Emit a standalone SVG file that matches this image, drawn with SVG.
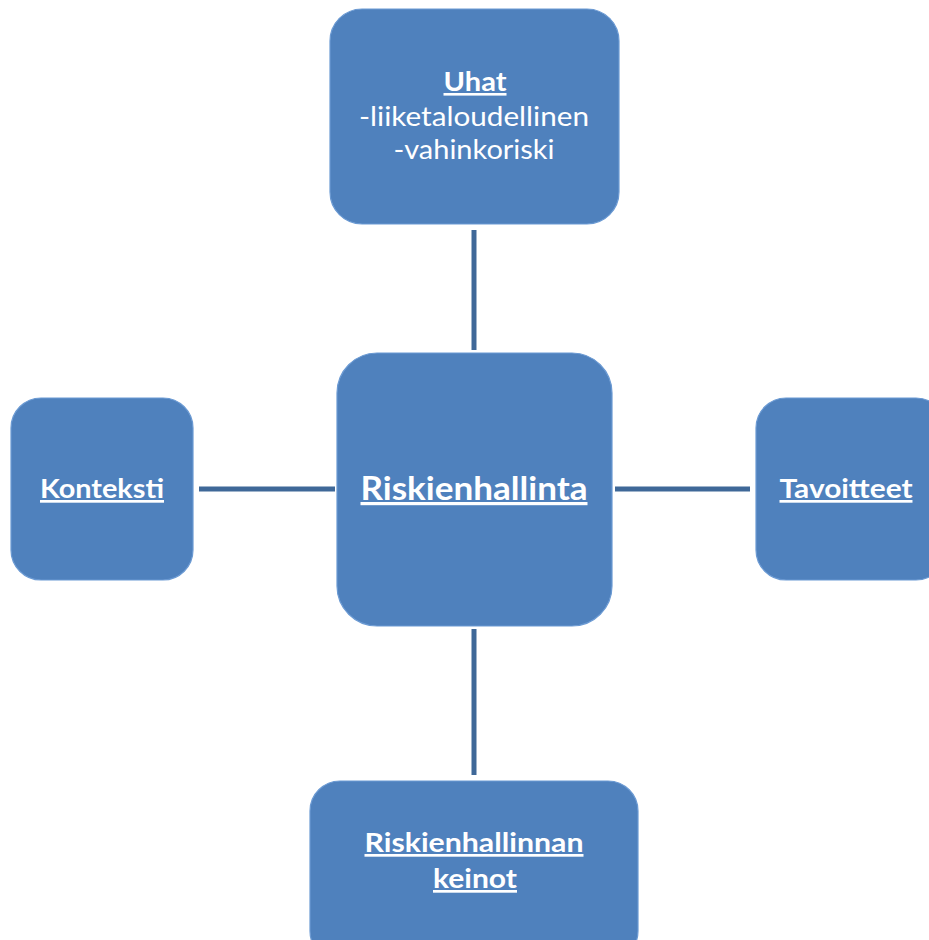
<svg xmlns="http://www.w3.org/2000/svg" width="929" height="940" viewBox="0 0 929 940">
<style>
.box{fill:#4F81BD;stroke:#6B9AD3;stroke-width:1.2}
.conn{stroke:#3F6898;stroke-width:5;fill:none}
text{font-family:Lato,"Liberation Sans",sans-serif;fill:#FFFFFF;text-anchor:middle}
.b{font-weight:bold;text-decoration:underline}
</style>
<rect width="929" height="940" fill="#FFFFFF"/>
<g id="connectors">
<line class="conn" x1="474" y1="230" x2="474" y2="350"/>
<line class="conn" x1="474" y1="629" x2="474" y2="775"/>
<line class="conn" x1="199" y1="489" x2="335" y2="489"/>
<line class="conn" x1="615" y1="489" x2="750" y2="489"/>
</g>
<g id="uhat">
<rect class="box" x="330" y="9" width="289" height="215" rx="32"/>
<text class="b" x="475" y="91" font-size="26" textLength="63" lengthAdjust="spacingAndGlyphs">Uhat</text>
<text x="474" y="126" font-size="26" textLength="230" lengthAdjust="spacingAndGlyphs">-liiketaloudellinen</text>
<text x="474" y="159" font-size="26" textLength="161" lengthAdjust="spacingAndGlyphs">-vahinkoriski</text>
</g>
<g id="riskienhallinta">
<rect class="box" x="337" y="353" width="275" height="273" rx="40"/>
<text class="b" x="474" y="500" font-size="32" textLength="227" lengthAdjust="spacingAndGlyphs">Riskienhallinta</text>
</g>
<g id="konteksti">
<rect class="box" x="11" y="398" width="182" height="182" rx="30"/>
<text class="b" x="102" y="498" font-size="27" textLength="124" lengthAdjust="spacingAndGlyphs">Konteksti</text>
</g>
<g id="tavoitteet">
<rect class="box" x="756" y="398" width="190" height="182" rx="30"/>
<text class="b" x="846" y="498" font-size="27" textLength="133" lengthAdjust="spacingAndGlyphs">Tavoitteet</text>
</g>
<g id="keinot">
<rect class="box" x="310" y="781" width="328" height="180" rx="30"/>
<text class="b" x="474" y="852" font-size="27" textLength="219" lengthAdjust="spacingAndGlyphs">Riskienhallinnan</text>
<text class="b" x="475" y="888" font-size="27" textLength="84" lengthAdjust="spacingAndGlyphs">keinot</text>
</g>
</svg>
